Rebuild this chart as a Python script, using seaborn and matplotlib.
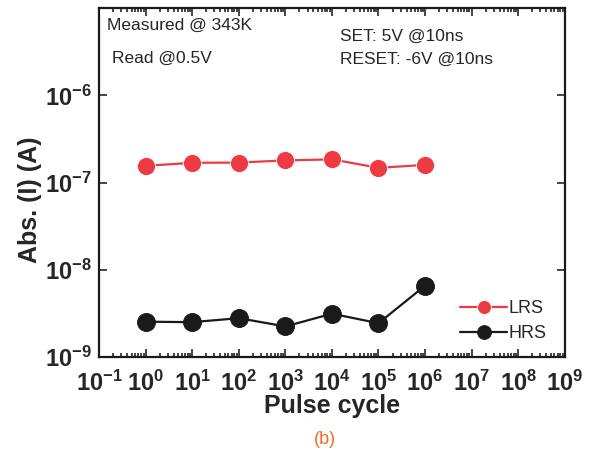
import numpy as np
import pandas as pd
import seaborn as sns
import matplotlib
matplotlib.use("Agg")
import matplotlib.pyplot as plt
from matplotlib.ticker import LogLocator, NullLocator

# values
cycles = [1e0, 1e1, 1e2, 1e3, 1e4, 1e5, 1e6]
lrs = [1.56e-7, 1.69e-7, 1.70e-7, 1.80e-7, 1.85e-7, 1.48e-7, 1.60e-7]
hrs = [2.55e-9, 2.52e-9, 2.80e-9, 2.25e-9, 3.15e-9, 2.45e-9, 6.6e-9]
states = ['LRS', 'HRS']
colors = {'LRS': '#ee3a43', 'HRS': '#1a1a1a'}

df = pd.DataFrame({
    'cycle': cycles * 2,
    'current': lrs + hrs,
    'state': ['LRS'] * len(lrs) + ['HRS'] * len(hrs),
})

sns.set_style('ticks')
plt.rcParams['font.family'] = ['Liberation Sans', 'DejaVu Sans']
plt.rcParams['axes.unicode_minus'] = False

fig = plt.figure(figsize=(5.97, 4.55), dpi=100)
ax = fig.add_axes([0.166, 0.215, 0.780, 0.767])

sns.lineplot(data=df, x='cycle', y='current', hue='state', style='state',
             hue_order=states, palette=colors, markers={'LRS': 'o', 'HRS': 'o'},
             dashes=False, markersize=13, markeredgewidth=0.6,
             linewidth=1.6, ax=ax, legend=True)
for line in ax.lines:
    line.set_markeredgecolor('white' if line.get_color() == colors['LRS'] else colors['HRS'])

ax.set_xscale('log')
ax.set_yscale('log')
ax.set_xlim(1e-1, 1e9)
ax.set_ylim(1e-9, 1e-5)
ax.xaxis.set_major_locator(LogLocator(base=10, numticks=20))
ax.xaxis.set_minor_locator(LogLocator(base=10, subs=np.arange(2, 10), numticks=20))
ax.set_yticks([1e-9, 1e-8, 1e-7, 1e-6])
ax.yaxis.set_minor_locator(NullLocator())

ax.tick_params(which='both', direction='in', top=True, right=True, width=1.2)
ax.tick_params(which='major', length=6, labelsize=17)
ax.tick_params(which='minor', length=3)
ax.tick_params(axis='x', which='major', pad=9.5)
ax.tick_params(axis='y', which='major', pad=5)
for lab in ax.get_xticklabels() + ax.get_yticklabels():
    lab.set_fontweight('bold')
for sp in ax.spines.values():
    sp.set_linewidth(1.6)
    sp.set_color('#1a1a1a')

ax.set_xlabel('Pulse cycle', fontsize=18, fontweight='bold', labelpad=-1)
ax.set_ylabel('Abs. (I) (A)', fontsize=18, fontweight='bold')
ax.yaxis.set_label_coords(-0.122, 0.45)

ax.text(0.018, 0.95, 'Measured @ 343K', transform=ax.transAxes, fontsize=12.5, va='center')
ax.text(0.027, 0.855, 'Read @0.5V', transform=ax.transAxes, fontsize=12.5, va='center')
ax.text(0.517, 0.92, 'SET: 5V @10ns', transform=ax.transAxes, fontsize=12.5, va='center')
ax.text(0.517, 0.853, 'RESET: -6V @10ns', transform=ax.transAxes, fontsize=12.5, va='center')

handles, labels = ax.get_legend_handles_labels()
leg = ax.legend(handles, labels, loc='lower right', bbox_to_anchor=(0.985, 0.012),
                frameon=False, fontsize=13, handlelength=2.6, handletextpad=0.1,
                labelspacing=0.45, borderaxespad=0.2)
for h in leg.legend_handles:
    h.set_markersize(10)

fig.text(0.545, 0.033, '(b)', color='#f26a2a', fontsize=13, ha='center', va='center')

fig.savefig('out.png', dpi=100)
